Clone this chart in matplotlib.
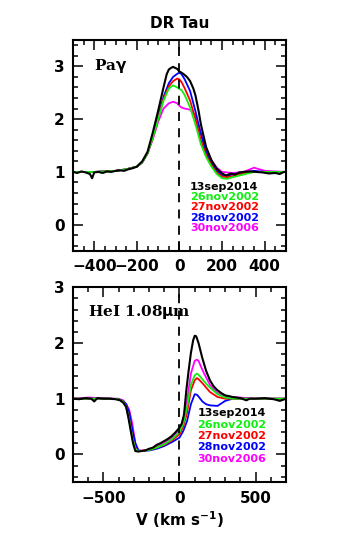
import matplotlib as mpl

mpl.use("Agg")
import matplotlib.pyplot as plt
from matplotlib.ticker import MultipleLocator

# --- Pa gamma panel: velocity grid shared by the 2002/2006 spectra ---
V_PAG = [-500, -400, -300, -250, -200, -175, -150, -125, -100, -75, -50, -30, -10, 0,
         10, 25, 50, 75, 100, 125, 150, 175, 200, 225, 250, 300, 350, 400, 500]
PAG_26NOV2002 = [1.0, 1.0, 1.02, 1.05, 1.1, 1.18, 1.35, 1.65, 2.0, 2.35, 2.58, 2.64, 2.6, 2.57,
                 2.55, 2.45, 2.22, 1.9, 1.53, 1.28, 1.1, 0.96, 0.88, 0.87, 0.9, 0.95, 1.0, 1.0, 1.0]
PAG_27NOV2002 = [1.0, 1.0, 1.02, 1.05, 1.1, 1.18, 1.35, 1.65, 2.02, 2.38, 2.62, 2.72, 2.77, 2.75,
                 2.7, 2.58, 2.35, 2.0, 1.6, 1.32, 1.13, 0.98, 0.91, 0.9, 0.92, 0.97, 1.0, 1.0, 1.0]
PAG_28NOV2002 = [1.0, 1.0, 1.02, 1.05, 1.1, 1.18, 1.35, 1.67, 2.05, 2.42, 2.68, 2.8, 2.86, 2.88,
                 2.85, 2.75, 2.53, 2.15, 1.72, 1.38, 1.16, 1.02, 0.94, 0.93, 0.95, 0.98, 1.02, 1.0, 1.0]
PAG_30NOV2006 = [1.0, 1.0, 1.02, 1.05, 1.1, 1.18, 1.35, 1.62, 1.95, 2.2, 2.3, 2.33, 2.3, 2.25,
                 2.22, 2.2, 2.18, 2.07, 1.75, 1.45, 1.22, 1.08, 1.0, 0.99, 0.98, 1.0, 1.08, 1.02, 1.0]

# 2014 spectrum is noisier, so it has its own (denser) grid
V_PAG_2014 = [-500, -480, -460, -440, -420, -410, -400, -380, -360, -340, -320, -300, -280,
              -260, -240, -220, -200, -175, -150, -125, -100, -75, -60, -50, -40, -30, -20,
              -10, 0, 10, 20, 35, 50, 65, 75, 90, 100, 125, 150, 175, 200, 220, 240, 260,
              280, 300, 330, 360, 390, 420, 450, 470, 490, 500]
PAG_13SEP2014 = [1.0, 0.98, 1.01, 0.99, 0.96, 0.88, 0.99, 1.0, 0.98, 1.01, 1.0, 1.02, 1.03,
                 1.02, 1.05, 1.07, 1.1, 1.2, 1.38, 1.75, 2.16, 2.6, 2.85, 2.94, 2.97, 2.99, 2.97,
                 2.95, 2.9, 2.88, 2.85, 2.8, 2.72, 2.58, 2.45, 2.15, 1.91, 1.47, 1.22, 1.06, 0.97,
                 0.93, 0.97, 0.95, 0.99, 1.0, 1.01, 1.0, 0.99, 0.97, 0.98, 0.96, 1.0, 1.0]

# --- HeI 1.08um panel ---
V_HE = [-700, -600, -500, -450, -400, -370, -350, -330, -310, -290, -270, -250, -200, -150,
        -100, -50, 0, 25, 50, 75, 100, 115, 125, 150, 175, 200, 250, 300, 350, 400, 500, 600, 700]
HE_26NOV2002 = [1.0, 1.0, 1.0, 1.0, 0.99, 0.95, 0.85, 0.62, 0.3, 0.1, 0.06, 0.06, 0.08, 0.12,
                0.18, 0.27, 0.4, 0.55, 0.85, 1.25, 1.42, 1.45, 1.43, 1.35, 1.27, 1.2, 1.08, 1.02,
                1.0, 1.0, 1.0, 1.0, 1.0]
HE_27NOV2002 = [1.0, 1.0, 1.0, 1.0, 0.99, 0.95, 0.85, 0.62, 0.3, 0.1, 0.06, 0.06, 0.08, 0.12,
                0.17, 0.25, 0.36, 0.5, 0.75, 1.15, 1.33, 1.37, 1.35, 1.28, 1.2, 1.12, 1.03, 1.0,
                1.0, 1.0, 1.0, 1.0, 1.0]
HE_28NOV2002 = [1.0, 1.0, 1.0, 1.0, 0.99, 0.96, 0.9, 0.75, 0.45, 0.2, 0.07, 0.06, 0.07, 0.1,
                0.15, 0.22, 0.3, 0.42, 0.6, 0.9, 1.08, 1.07, 1.04, 0.95, 0.9, 0.88, 0.87, 0.96,
                1.0, 1.0, 1.0, 1.0, 1.0]
HE_30NOV2006 = [1.0, 1.02, 1.01, 1.0, 1.0, 0.97, 0.9, 0.8, 0.55, 0.2, 0.07, 0.07, 0.08, 0.13,
                0.2, 0.3, 0.45, 0.62, 0.97, 1.45, 1.68, 1.7, 1.68, 1.52, 1.38, 1.25, 1.1, 1.05,
                1.03, 1.02, 1.0, 1.0, 1.0]

V_HE_2014 = [-700, -660, -620, -580, -560, -540, -500, -460, -420, -390, -370, -350, -335,
             -320, -305, -290, -270, -250, -225, -200, -175, -150, -125, -100, -75, -50, -25,
             0, 15, 30, 45, 60, 75, 90, 100, 110, 125, 150, 175, 200, 225, 250, 275, 300, 350,
             400, 440, 460, 500, 560, 620, 660, 700]
HE_13SEP2014 = [1.0, 0.99, 1.01, 1.0, 0.95, 1.01, 1.0, 1.0, 0.99, 0.97, 0.93, 0.85, 0.65,
                0.42, 0.2, 0.06, 0.05, 0.06, 0.07, 0.1, 0.12, 0.17, 0.2, 0.24, 0.28, 0.33, 0.4,
                0.48, 0.55, 0.72, 1.15, 1.5, 1.82, 2.05, 2.13, 2.12, 2.0, 1.73, 1.5, 1.33, 1.22,
                1.15, 1.1, 1.06, 1.03, 1.01, 0.97, 1.0, 1.0, 1.01, 0.99, 0.96, 1.0]

DATES = ["13sep2014", "26nov2002", "27nov2002", "28nov2002", "30nov2006"]
COLORS = ["black", "#11ee11", "red", "blue", "magenta"]

mpl.rcParams.update({
    "font.family": "DejaVu Sans",
    "font.weight": "bold",
    "axes.labelweight": "bold",
    "mathtext.default": "bf",
    "font.size": 11,
    "axes.linewidth": 1.5,
    "xtick.direction": "in",
    "ytick.direction": "in",
    "xtick.top": True,
    "ytick.right": True,
    "xtick.major.size": 7,
    "ytick.major.size": 7,
    "xtick.minor.size": 3.5,
    "ytick.minor.size": 3.5,
    "xtick.major.width": 1.1,
    "ytick.major.width": 1.1,
    "xtick.minor.width": 1.1,
    "ytick.minor.width": 1.1,
})

fig = plt.figure(figsize=(3.54, 5.40), dpi=100)
ax1 = fig.add_axes([0.206, 0.535, 0.602, 0.391])
ax2 = fig.add_axes([0.206, 0.107, 0.602, 0.361])


def draw_panel(ax, v, series, v14, s14):
    # order: 2006, 28nov, 27nov, 26nov, then 2014 on top
    for ys, c in zip(series[::-1], COLORS[1:][::-1]):
        ax.plot(v, ys, color=c, lw=1.3)
    ax.plot(v14, s14, color="black", lw=1.5)
    ax.axvline(0, color="black", lw=1.3, ls=(0, (5, 4)))


draw_panel(ax1, V_PAG, [PAG_26NOV2002, PAG_27NOV2002, PAG_28NOV2002, PAG_30NOV2006],
           V_PAG_2014, PAG_13SEP2014)
ax1.set_xlim(-500, 500)
ax1.set_ylim(-0.5, 3.5)
ax1.xaxis.set_major_locator(MultipleLocator(200))
ax1.xaxis.set_minor_locator(MultipleLocator(50))
ax1.yaxis.set_major_locator(MultipleLocator(1))
ax1.yaxis.set_minor_locator(MultipleLocator(0.2))
ax1.text(-400, 3.0, r"Pa$\gamma$", family="DejaVu Serif", fontsize=11, va="center")

draw_panel(ax2, V_HE, [HE_26NOV2002, HE_27NOV2002, HE_28NOV2002, HE_30NOV2006],
           V_HE_2014, HE_13SEP2014)
ax2.set_xlim(-700, 700)
ax2.set_ylim(-0.5, 3.0)
ax2.xaxis.set_major_locator(MultipleLocator(500))
ax2.xaxis.set_minor_locator(MultipleLocator(100))
ax2.yaxis.set_major_locator(MultipleLocator(1))
ax2.yaxis.set_minor_locator(MultipleLocator(0.2))
ax2.text(-600, 2.56, r"HeI 1.08$\mu$m", family="DejaVu Serif", fontsize=11, va="center")
ax2.set_xlabel(r"V (km s$^{-1}$)", labelpad=3)

# stacked date labels in each panel
for ax, x0, y0, dy in ((ax1, 50, 0.72, 0.195), (ax2, 118, 0.74, 0.205)):
    for i, (d, c) in enumerate(zip(DATES, COLORS)):
        ax.text(x0, y0 - i * dy, d, color=c, fontsize=8, fontweight="bold", va="center")

for ax in (ax1, ax2):
    ax.tick_params(which="major", pad=6)

fig.text(0.507, 0.956, "DR Tau", ha="center", va="center", fontsize=11)

fig.savefig("out.png", dpi=100)
